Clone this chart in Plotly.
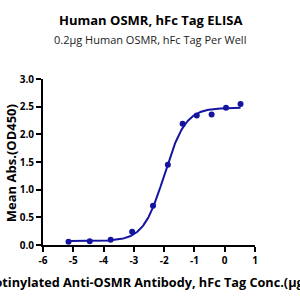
import numpy as np
import plotly.graph_objects as go

# Data
log_conc = [-5.157, -4.457, -3.767, -3.057, -2.367, -1.877, -1.39, -0.923, -0.433, 0.043, 0.523]
od450 = [0.06, 0.07, 0.095, 0.24, 0.71, 1.45, 2.19, 2.34, 2.36, 2.48, 2.55]

# 4PL fit parameters (bottom, top, logEC50, hill)
fit_bottom = 0.07
fit_top = 2.48
fit_logec50 = -1.99
fit_hill = 1.25

x_ticks = [-6, -5, -4, -3, -2, -1, 0, 1]
y_ticks = [0.0, 0.5, 1.0, 1.5, 2.0, 2.5, 3.0]

color = "#1414a0"
font = "Open Sans"

xf = np.linspace(min(log_conc), max(log_conc), 300)
yf = fit_bottom + (fit_top - fit_bottom) / (1 + 10 ** ((fit_logec50 - xf) * fit_hill))

fig = go.Figure()
fig.add_trace(go.Scatter(x=xf, y=yf, mode="lines",
                         line=dict(color=color, width=2), hoverinfo="skip"))
fig.add_trace(go.Scatter(x=log_conc, y=od450, mode="markers",
                         marker=dict(color=color, size=6)))

fig.update_layout(
    width=300, height=300,
    margin=dict(l=43, r=45, t=79, b=55),
    plot_bgcolor="white", paper_bgcolor="white",
    showlegend=False,
    font=dict(family=font, color="black"),
)
fig.update_xaxes(
    range=[-6, 1], tickvals=x_ticks, ticktext=[str(v) for v in x_ticks],
    showline=True, linecolor="black", linewidth=2,
    ticks="outside", ticklen=5, tickwidth=1.5, tickcolor="black",
    showgrid=False, zeroline=False,
    tickfont=dict(family=font, size=10, color="black", weight="bold"),
)
fig.update_yaxes(
    range=[0, 3], tickvals=y_ticks, ticktext=[f"{v:.1f}" for v in y_ticks],
    showline=True, linecolor="black", linewidth=2,
    ticks="outside", ticklen=5, tickwidth=1.5, tickcolor="black",
    showgrid=False, zeroline=False,
    tickfont=dict(family=font, size=10, color="black", weight="bold"),
)

fig.add_annotation(text="<b>Human OSMR, hFc Tag ELISA</b>", xref="paper", yref="paper",
                   x=0.505, y=1.355, showarrow=False, xanchor="center", yanchor="middle",
                   font=dict(family=font, size=13, color="black"))
fig.add_annotation(text="0.2µg Human OSMR, hFc Tag Per Well", xref="paper", yref="paper",
                   x=0.505, y=1.235, showarrow=False, xanchor="center", yanchor="middle",
                   font=dict(family=font, size=11, color="#222222"))
fig.add_annotation(text="<b>Biotinylated Anti-OSMR Antibody, hFc Tag Conc.(μg/ml)</b>",
                   xref="paper", yref="paper", x=0.535, y=-0.223, showarrow=False,
                   xanchor="center", yanchor="middle",
                   font=dict(family=font, size=12.7, color="black"))
fig.add_annotation(text="<b>Mean Abs.(OD450)</b>", xref="paper", yref="paper",
                   x=-0.15, y=0.494, showarrow=False, textangle=-90,
                   xanchor="center", yanchor="middle",
                   font=dict(family=font, size=13, color="black"))

fig.write_html("out.html")
